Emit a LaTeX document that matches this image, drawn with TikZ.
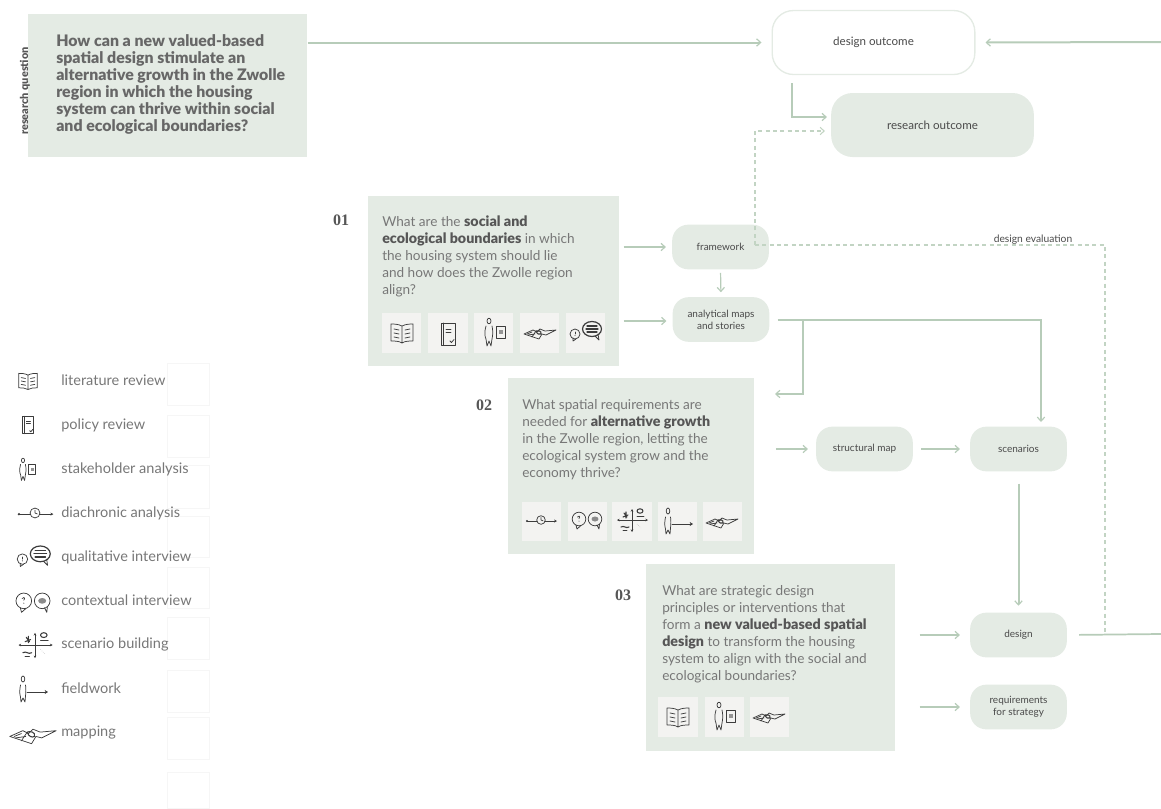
\documentclass[tikz,border=0pt]{standalone}
\usepackage{fontspec}
\usetikzlibrary{arrows.meta}
\setmainfont{Lato}[BoldFont={Lato Black}]
\newfontfamily\numfont{Liberation Serif}[Scale=1]
\definecolor{boxfill}{HTML}{E4EBE4}
\definecolor{iconbox}{HTML}{F3F3F1}
\definecolor{flow}{HTML}{B7CCB9}
\definecolor{ink}{HTML}{777777}
\definecolor{strong}{HTML}{565656}
\definecolor{nodeink}{HTML}{4A4A4A}
\definecolor{ghost}{HTML}{F6F6F6}
\definecolor{sketch}{HTML}{3C3C3C}
\newcommand{\hilite}[1]{\textcolor{strong}{\fontsize{10.7}{12.75}\selectfont\textbf{#1}}}
\tikzset{
  x=0.75pt,y=-0.75pt,
  qbox/.style={fill=boxfill,draw=none,rectangle,inner sep=0pt,minimum width=#1},
  qtext/.style={anchor=north west,align=left,inner sep=0pt,text=ink,font=\fontsize{10.2}{12.75}\selectfont},
  outcome/.style={rectangle,rounded corners=16pt,fill=boxfill,inner sep=0pt,minimum width=152pt,minimum height=48pt,text=nodeink,font=\fontsize{8.7}{10}\selectfont,align=center},
  result/.style={rectangle,rounded corners=12pt,fill=boxfill,inner sep=0pt,minimum width=72.5pt,minimum height=33.5pt,text=nodeink,font=\fontsize{7.5}{9}\selectfont,align=center},
  num/.style={inner sep=0pt,font=\numfont\bfseries\fontsize{12}{14}\selectfont,text=strong},
  legend/.style={anchor=west,inner sep=0pt,text=ink,font=\fontsize{10.9}{13}\selectfont},
  flowline/.style={draw=flow,line width=1.5pt,-{Straight Barb[length=3pt,width=5.5pt,line width=.9pt]}},
  thinflow/.style={flowline,line width=.9pt},
  plain/.style={draw=flow,line width=1.3pt},
  dashline/.style={draw=flow!85,line width=.8pt,dash pattern=on 3pt off 2.5pt},
  tile/.style={fill=iconbox,draw=none},
  ghostbox/.style={draw=ghost,line width=.6pt},
  sk/.style={draw=sketch,line width=.55pt,line cap=round,line join=round},
  pics/bookicon/.style={code={
    \draw[sk] (0,-7) .. controls (-4,-9) and (-8,-9) .. (-11,-9) -- (-11,8) .. controls (-7,8) and (-3,8) .. (0,10) .. controls (3,8) and (7,8) .. (11,8) -- (11,-9) .. controls (8,-9) and (4,-9) .. (0,-7) -- (0,10);
    \foreach \yy in {-4,0,4}{\draw[sk] (-8,\yy) -- (-3,\yy+1); \draw[sk] (3,\yy+1) -- (8,\yy);}
  }},
  pics/policyicon/.style={code={
    \draw[sk,line width=.7pt] (-7,-11) -- (7,-11) -- (7,11) -- (-7,11) -- cycle;
    \draw[sk] (-5,-11) -- (-5,11);
    \draw[sk] (-2,-5) -- (3,-5) (-2,-2) -- (3,-2);
    \draw[sk] (2,7) -- (3.5,8.5) -- (6,5.5);
  }},
  pics/stakeicon/.style={code={
    \draw[sk] (-5,-12) ellipse (2 and 2.8);
    \draw[sk] (-8,-7) .. controls (-10,0) and (-9,4) .. (-8,6) -- (-7,13) -- (-5,8) -- (-3,13) -- (-2,6) .. controls (-1,2) and (-1,-3) .. (-2,-7);
    \draw[sk] (2,-7) rectangle (11,5);
    \fill[sketch!55] (5,-3) rectangle (9,1);
  }},
  pics/clockicon/.style={code={
    \draw[sk] (-14,1) -- (-4,1) (4,1) -- (14,1);
    \fill[sketch] (-14,1) circle (1.1);
    \draw[sk,-{Stealth[length=2.2pt,width=2.2pt]}] (4,1) -- (16,1);
    \draw[sk] (0,0) circle (4.3);
    \draw[sk] (0,-2.5) -- (0,0) -- (2,0.8);
  }},
  pics/qualiicon/.style={code={
    \draw[sk] (-11,2) circle (5);
    \draw[sk] (-11,0) -- (-11,2);
    \fill[sketch] (-11,3.6) circle (.5);
    \draw[sk] (-13,6) -- (-13,9) -- (-10,7);
    \draw[sk,line width=.9pt] (6,-3) ellipse (9.5 and 7.5);
    \draw[sk] (9,4) -- (13,8) -- (12,2);
    \draw[sk,line width=.8pt] (1,-6) -- (11,-6) (0,-3) -- (12,-3) (1,0) -- (11,0);
  }},
  pics/contexticon/.style={code={
    \draw[sk] (-8,-1) circle (6.8);
    \draw[sk] (-11,5) -- (-10,9) -- (-6,5.5);
    \draw[sk] (-9.5,-3) .. controls (-9,-5) and (-6,-4) .. (-8,-1.5);
    \fill[sketch] (-8,1) circle (.5);
    \draw[sk] (8,-1) circle (6.8);
    \draw[sk] (10,5) -- (12,9) -- (12.5,4);
    \fill[sketch!60] (8,-1) ellipse (3.5 and 2.5);
  }},
  pics/scenicon/.style={code={
    \draw[sk,{Stealth[length=2pt,width=2pt]}-{Stealth[length=2pt,width=2pt]}] (0,-11) -- (0,12);
    \draw[sk,{Stealth[length=2pt,width=2pt]}-{Stealth[length=2pt,width=2pt]}] (-15,0) -- (16,0);
    \draw[sk,line width=.8pt] (-8,-7) -- (-5,-3) (-9,-3) -- (-4,-5) (-6,-8) -- (-6,-2);
    \draw[sk,line width=.8pt] (-11,7) .. controls (-8,5) and (-6,9) .. (-3,7);
    \draw[sk] (-9,10) -- (-5,10);
    \draw[sk,line width=.8pt] (8,-9) ellipse (3 and 2.2);
    \draw[sk] (5,-4) -- (12,-4);
    \draw[sketch!35,line width=.4pt,densely dotted] (5,4) -- (9,8);
  }},
  pics/fieldicon/.style={code={
    \draw[sk] (-10,-11) ellipse (1.8 and 3);
    \draw[sk] (-12.5,-5) .. controls (-13.5,0) and (-13.5,4) .. (-12.5,7) -- (-12,12) -- (-10,8) -- (-8,12) -- (-7.5,6) .. controls (-7,2) and (-7,-2) .. (-7.5,-5);
    \draw[sk,-{Stealth[length=2.5pt,width=3pt]}] (-6,2) -- (15,2);
  }},
  pics/mapicon/.style={code={
    \draw[sk] (-16,1) -- (-7,-3) -- (-3,-1) -- (0,-4) -- (5,-2) -- (16,-3) -- (6,2) -- (2,1) -- (-1,6) -- (-7,4) -- cycle;
    \draw[sk] (-12,2) -- (-5,1) (-8,4) -- (-4,-2);
    \draw[sk,line width=.8pt] (-4,-2) .. controls (-2,-3) and (2,-2) .. (1,1) .. controls (-1,2) and (-3,1) .. (-4,-2);
    \draw[sk] (-13,1) -- (-8,-1);
  }},
}
\begin{document}
\begin{tikzpicture}
\useasboundingbox (0,0) rectangle (1161,808);

% faint ghost boxes of the legend
\foreach \ya/\yb in {363/405,415/457,465/508,516/557,567/608,617/659,670/712,717/759,772/808}
  \draw[ghostbox] (167,\ya) rectangle (209,\yb);

% question boxes
\node[qbox,anchor=north west,minimum width=209.25pt,minimum height=107.25pt] (rq) at (28,14) {};
\node[rotate=90,inner sep=0pt,text=strong,font=\bfseries\fontsize{8.2}{10}\selectfont] (rqlabel) at (25,91) {research question};
\node[qtext,anchor=north west,text=strong!90,font=\bfseries\fontsize{11.9}{12.75}\selectfont] (rqtext) at (56,34) {How can a new valued-based\\spatial design stimulate an\\alternative growth in the Zwolle\\region in which the housing\\system can thrive within social\\and ecological boundaries?};

\node[qbox,anchor=north west,minimum width=188.25pt,minimum height=127.5pt] (q1) at (368,196) {};
\node[qtext] (q1text) at (382,215.5) {What are the \hilite{social and}\\\hilite{ecological boundaries} in which\\the housing system should lie\\and how does the Zwolle region\\align?};
\node[num] (n1) at (341,220) {01};

\node[qbox,anchor=north west,minimum width=184.5pt,minimum height=132pt] (q2) at (508,378) {};
\node[qtext] (q2text) at (522,399.5) {What spatial requirements are\\needed for \hilite{alternative growth}\\in the Zwolle region, letting the\\ecological system grow and the\\economy thrive?};
\node[num] (n2) at (484,405) {02};

\node[qbox,anchor=north west,minimum width=186.75pt,minimum height=140.25pt] (q3) at (646,564) {};
\node[qtext] (q3text) at (662,585.5) {What are strategic design\\principles or interventions that\\form a \hilite{new valued-based spatial}\\\hilite{design} to transform the housing\\system to align with the social and\\ecological boundaries?};
\node[num] (n3) at (623,595) {03};

% tiles and icons in the boxes
\foreach \xa/\xb in {382/421,428/468,474/513,520/559,566/605} \fill[tile] (\xa,313) rectangle (\xb,353);
\foreach \xa/\xb in {522/561,568/607,612/652,658/697,703/742} \fill[tile] (\xa,502) rectangle (\xb,541);
\foreach \xa/\xb in {658/698,705/744,750/789} \fill[tile] (\xa,697) rectangle (\xb,737);

\pic at (402,333) {bookicon};
\pic at (448,334) {policyicon};
\pic at (494,333) {stakeicon};
\pic at (540,333) {mapicon};
\pic at (586,332) {qualiicon};

\pic at (541,520) {clockicon};
\pic at (587,520) {contexticon};
\pic at (632,520) {scenicon};
\pic at (678,522) {fieldicon};
\pic at (722,522) {mapicon};

\pic at (678,717) {bookicon};
\pic at (724,717) {stakeicon};
\pic at (769,717) {mapicon};

% result nodes
\node[outcome,fill=white,draw=boxfill,line width=1pt] (dout) at (873.5,42.5) {\raisebox{-1pt}{design outcome}};
\node[outcome] (rout) at (932.5,125) {research outcome};
\node[result] (fw) at (720.5,247) {framework};
\node[result] (maps) at (721,319.5) {analytical maps\\and stories};
\node[result] (smap) at (864.5,449) {structural map};
\node[result] (scen) at (1018.5,449) {scenarios};
\node[result] (des) at (1018.5,635) {design};
\node[result] (req) at (1018.5,707) {requirements\\for strategy};

% free ends
\coordinate (edgeT) at (1161,42);
\coordinate (edgeB) at (1161,634);
\coordinate (split) at (803,320);
\coordinate (down) at (1041,320);
\coordinate (back) at (775,394);
\coordinate (rise) at (755,245);
\coordinate (turn) at (1105,245);
\coordinate (join) at (1105,634);

% connectors
\draw[flowline,shorten >=7.5pt] (rq.east |- dout.west) -- (dout.west);
\draw[flowline,shorten >=7.5pt] (edgeT) -- (dout.east);
\draw[draw=boxfill,line width=.7pt] (edgeT) -- (edgeB);
\draw[flowline,line width=1.1pt,shorten >=3pt] (792,83) -- (792,117) -- (rout.west |- 0,117);
\draw[dashline,-{Straight Barb[length=3pt,width=5.5pt,line width=.8pt]},shorten >=4.5pt] (rise) -- (755,131) -- (rout.west |- 0,131);
\draw[dashline] (rise) -- (turn) -- (join);
\draw[thinflow,shorten <=3pt,shorten >=4.5pt] (q1.east |- fw.west) -- (fw.west);
\draw[thinflow,shorten <=3pt,shorten >=4.5pt] (q1.east |- 0,321) -- (maps.west |- 0,321);
\draw[thinflow,shorten <=2.5pt,shorten >=3.5pt] (fw.south) -- (maps.north);
\draw[flowline] (maps.east |- split) ++(8,0) -- (down) -- (1041,422);
\draw[flowline] (split) -- (803,394) -- (back);
\draw[thinflow,shorten <=16pt,shorten >=6pt] (q2.east |- smap.west) -- (smap.west);
\draw[thinflow,shorten <=6pt,shorten >=7.5pt] (smap.east) -- (scen.west);
\draw[flowline,shorten <=9pt,shorten >=5pt] (scen.south) -- (des.north);
\draw[thinflow,shorten <=18pt,shorten >=7.5pt] (q3.east |- des.west) -- (des.west);
\draw[thinflow,shorten <=18pt,shorten >=7.5pt] (q3.east |- req.west) -- (req.west);
\draw[plain,shorten <=9pt] (des.east) -- (edgeB);
\node[inner sep=0pt,text=nodeink,font=\fontsize{7.7}{9}\selectfont] (evallabel) at (1033,240) {design evaluation};

% legend
\node[legend] (l1) at (61,380) {literature review};
\node[legend] (l2) at (61,425) {policy review};
\node[legend] (l3) at (61,469) {stakeholder analysis};
\node[legend] (l4) at (61,513) {diachronic analysis};
\node[legend] (l5) at (61,557) {qualitative interview};
\node[legend] (l6) at (61,600) {contextual interview};
\node[legend] (l7) at (61,644) {scenario building};
\node[legend] (l8) at (61,688) {fieldwork};
\node[legend] (l9) at (61,733) {mapping};

\pic[scale=.85] at (28,381) {bookicon};
\pic[scale=.8] at (28,425) {policyicon};
\pic[scale=.8] at (27,470) {stakeicon};
\pic[scale=1.15] at (35,513) {clockicon};
\pic[scale=1.05] at (34,557) {qualiicon};
\pic[scale=1.15] at (33,602) {contexticon};
\pic[scale=1.1] at (35,645) {scenicon};
\pic at (33,690) {fieldicon};
\pic[scale=1.45] at (33,735) {mapicon};
\end{tikzpicture}
\end{document}
